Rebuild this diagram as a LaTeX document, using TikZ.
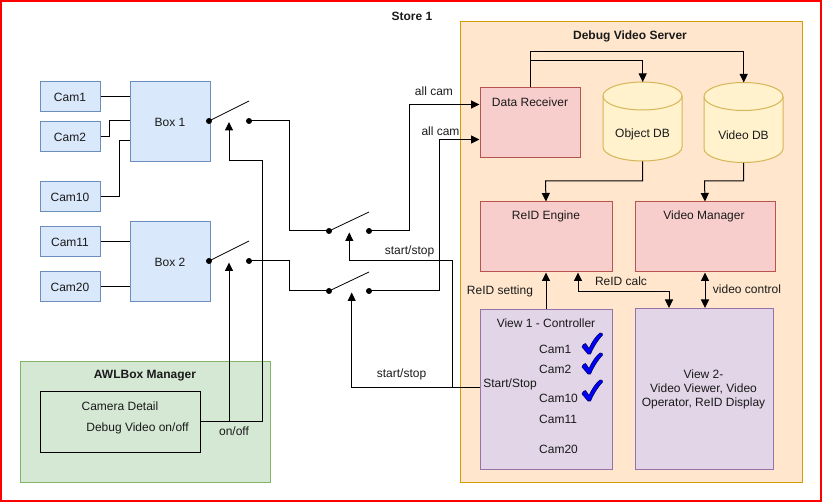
\documentclass[tikz,border=0pt]{standalone}
\usepackage{fontspec}
\setmainfont{Liberation Sans}
\usetikzlibrary{arrows.meta,calc}
\definecolor{bluef}{HTML}{DAE8FC}\definecolor{blued}{HTML}{6C8EBF}
\definecolor{redf}{HTML}{F8CECC}\definecolor{redd}{HTML}{B85450}
\definecolor{orf}{HTML}{FFE6CC}\definecolor{ord}{HTML}{D79B00}
\definecolor{yelf}{HTML}{FFF2CC}\definecolor{yeld}{HTML}{D6B656}
\definecolor{purf}{HTML}{E1D5E7}\definecolor{purd}{HTML}{9673A6}
\definecolor{grf}{HTML}{D5E8D4}\definecolor{grd}{HTML}{82B366}
\definecolor{txt}{HTML}{1A1A1A}
\definecolor{chkblue}{HTML}{0000FF}
\definecolor{chkline}{HTML}{00005A}
\begin{document}
\begin{tikzpicture}[x=1pt,y=-1pt,
  every node/.style={font=\fontsize{12}{14}\selectfont, text=txt, inner sep=0pt},
  bx/.style={rectangle, line width=1pt, anchor=north west, inner sep=0pt},
  cam/.style={bx, fill=bluef, draw=blued, minimum width=60pt, minimum height=30pt},
  rbox/.style={bx, fill=redf, draw=redd},
  pbox/.style={bx, fill=purf, draw=purd},
  lbl/.style={font=\fontsize{12}{14}\selectfont},
  ttl/.style={font=\bfseries\fontsize{12}{14}\selectfont},
  wire/.style={line width=1pt, draw=black},
  tip/.tip={Triangle[length=8.5pt,width=8pt]},
  arr/.style={wire, -tip},
  arrr/.style={wire, tip-tip},
  dot/.style={circle, fill=black, minimum size=6pt, inner sep=0pt},
  blade/.style={line width=0.8pt, draw=black},
  chk/.style={fill=chkblue, draw=chkline, line width=0.6pt, line join=round}
]
\useasboundingbox (0,0) rectangle (822,502);
% store
\draw[red, line width=1.5pt] (1,1) rectangle (821,501);
\node[ttl] (store) at (412,16) {Store 1};
% debug video server
\node[bx, fill=orf, draw=ord, minimum width=342pt, minimum height=460pt] (dvs) at (459.5,21.5) {};
\node[ttl] (dvst) at (630,36) {Debug Video Server};
% awl manager
\node[bx, fill=grf, draw=grd, minimum width=250pt, minimum height=120pt] (awl) at (19.5,361.5) {};
\node[ttl] (awlt) at (145,376) {AWLBox Manager};
\node[bx, draw=black, minimum width=160pt, minimum height=60pt] (cd) at (39.5,391.5) {};
\node[lbl] (cdt1) at (120,406) {Camera Detail};
\node[lbl] (cdt2) at (137.5,428.5) {Debug Video on/off};
% cams
\node[cam] (cam1) at (39.5,81.5) {Cam1};
\node[cam] (cam2) at (39.5,121.5) {Cam2};
\node[cam] (cam10) at (39.5,181.5) {Cam10};
\node[cam] (cam11) at (39.5,226.5) {Cam11};
\node[cam] (cam20) at (39.5,271.5) {Cam20};
\node[cam, minimum width=80pt, minimum height=80pt] (box1) at (129.5,81.5) {Box 1};
\node[cam, minimum width=80pt, minimum height=80pt] (box2) at (129.5,221.5) {Box 2};
% cam wires
\draw[wire] (cam1.east) -- (box1.west |- cam1.east);
\draw[wire] (cam2.east) -| (109,121) -- (box1.west |- 0,121);
\draw[wire] (cam10.east) -| (119,141) -- (box1.west |- 0,141);
\draw[wire] (cam11.east) -- (box2.west |- cam11.east);
\draw[wire] (cam20.east) -- (box2.west |- cam20.east);
% server boxes
\node[rbox, minimum width=100pt, minimum height=70pt] (dr) at (479.5,87.5) {};
\node[lbl] (drt) at (530,102) {Data Receiver};
\node[rbox, minimum width=132pt, minimum height=70pt] (reid) at (479.5,201.5) {};
\node[lbl] (reidt) at (546,216) {ReID Engine};
\node[rbox, minimum width=140pt, minimum height=70pt] (vm) at (634.5,201.5) {};
\node[lbl] (vmt) at (704,216) {Video Manager};
\node[pbox, minimum width=132pt, minimum height=160pt] (v1) at (479.5,309) {};
\node[lbl] (v1t) at (546,323) {View 1 - Controller};
\node[pbox, minimum width=138pt, minimum height=161pt] (v2) at (634.5,308) {};
\node[lbl, align=center] (v2t) at (703.5,389) {View 2-\\Video Viewer, Video\\Operator, ReID Display};
% cylinders
\node[minimum width=79pt, minimum height=79pt, anchor=north west] (odb) at (603,82) {};
\node[minimum width=79pt, minimum height=80pt, anchor=north west] (vdb) at (704,82.5) {};
\filldraw[fill=yelf, draw=yeld, line width=1pt]
  (603,96) -- (603,147) .. controls (603,154.7) and (620.7,161) .. (642.5,161)
  .. controls (664.3,161) and (682,154.7) .. (682,147) -- (682,96)
  .. controls (682,88.3) and (664.3,82) .. (642.5,82)
  .. controls (620.7,82) and (603,88.3) .. (603,96) -- cycle;
\draw[yeld, line width=1pt] (603,96) .. controls (603,103.7) and (620.7,110) .. (642.5,110)
  .. controls (664.3,110) and (682,103.7) .. (682,96);
\filldraw[fill=yelf, draw=yeld, line width=1pt]
  (704,96.5) -- (704,148.5) .. controls (704,156.2) and (721.7,162.5) .. (743.5,162.5)
  .. controls (765.3,162.5) and (783,156.2) .. (783,148.5) -- (783,96.5)
  .. controls (783,88.8) and (765.3,82.5) .. (743.5,82.5)
  .. controls (721.7,82.5) and (704,88.8) .. (704,96.5) -- cycle;
\draw[yeld, line width=1pt] (704,96.5) .. controls (704,104.2) and (721.7,110.5) .. (743.5,110.5)
  .. controls (765.3,110.5) and (783,104.2) .. (783,96.5);
\node[lbl] (odbt) at (642.5,134) {Object DB};
\node[lbl] (vdbt) at (743.5,135) {Video DB};
% server connectors
\draw[arr] (dr.north) -- (dr.north |- 0,52) -| (vdb.north);
\draw[arr] (dr.north |- 0,61) -| (odb.north);
\draw[arr] (odb.south) |- (545.5,181) -- (reid.north);
\draw[arr] (vdb.south) |- (704.5,181) -- (vm.north);
\draw[arr] (v1.north) -- (reid.south);
\draw[arrr] (reid.south -| 578,0) |- (669,292) -- (v2.north -| 669,0);
\draw[arrr] (vm.south) -- (v2.north -| vm.south);
\node[lbl] (lset) at (500,291) {ReID setting};
\node[lbl] (lcalc) at (621,281) {ReID calc};
\node[lbl] (lvc) at (747,289) {video control};
% view1 contents
\node[lbl, anchor=west] (c1) at (539,349) {Cam1};
\node[lbl, anchor=west] (c2) at (539,369) {Cam2};
\node[lbl, anchor=west] (c10) at (539,398.5) {Cam10};
\node[lbl, anchor=west] (c11) at (539,419) {Cam11};
\node[lbl, anchor=west] (c20) at (539,449) {Cam20};
\node[lbl] (ss) at (510,384) {Start/Stop};
\foreach \yy in {354,374,401}{
  \filldraw[chk] (588,\yy) -- (582,\yy-7) .. controls (582.5,\yy-9) and (584,\yy-10.5) .. (585.5,\yy-10.5)
    -- (589,\yy-5.5) .. controls (592,\yy-12) and (596,\yy-18) .. (600,\yy-21)
    .. controls (601.5,\yy-21.5) and (603,\yy-20.5) .. (602.5,\yy-19)
    .. controls (597,\yy-13) and (593,\yy-6) .. (590.5,\yy) -- cycle;
}
% switches
\node[dot] (s1a) at (209,121) {};
\node[dot] (s1b) at (249,121) {};
\node[dot] (s2a) at (209,261) {};
\node[dot] (s2b) at (249,261) {};
\node[dot] (s3a) at (329,231) {};
\node[dot] (s3b) at (369,231) {};
\node[dot] (s4a) at (329,291) {};
\node[dot] (s4b) at (369,291) {};
\draw[blade] (s1a.center) -- (249,101);
\draw[blade] (s2a.center) -- (249,241);
\draw[blade] (s3a.center) -- (369,212);
\draw[blade] (s4a.center) -- (369,272);
\coordinate (s1c) at (229,122);
\coordinate (s2c) at (229,262.5);
\coordinate (s3c) at (349.3,232.5);
\coordinate (s4c) at (351.7,292.5);
% switch wiring
\draw[wire] (s1b.center) -| (289,231) -- (s3a.center);
\draw[wire] (s2b.center) -| (289,291) -- (s4a.center);
\draw[arr] (s3b.center) -| (409,104.5) -- (dr.west |- 0,104.5);
\draw[arr] (s4b.center) -| (439,139.5) -- (dr.west |- 0,139.5);
\node[lbl] (lac1) at (434,91) {all cam};
\node[lbl] (lac2) at (440.5,131) {all cam};
% control lines
\draw[arr] (cd.east) -| (262,161) -| (s1c);
\draw[arr] (cd.east) -| (s2c);
\node[lbl] (lonoff) at (234,431) {on/off};
\draw[arr] (v1.west |- 0,388) -| (452,261) -| (s3c);
\draw[arr] (v1.west |- 0,388) -| (s4c);
\node[lbl] (lss1) at (409.5,251) {start/stop};
\node[lbl] (lss2) at (401.5,374) {start/stop};
\end{tikzpicture}
\end{document}
